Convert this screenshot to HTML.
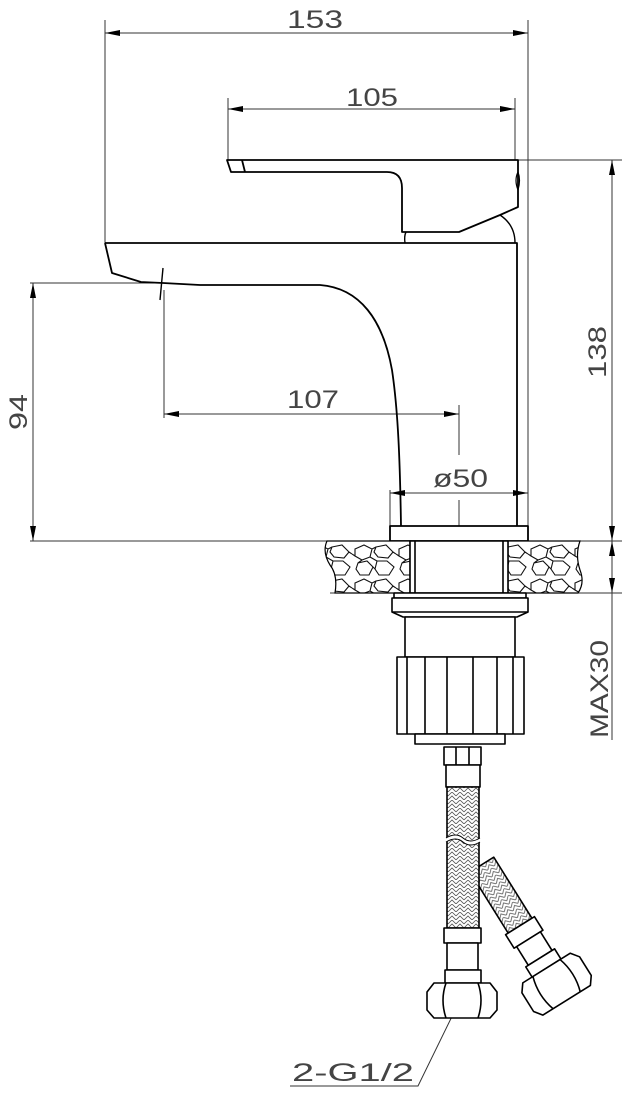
<!DOCTYPE html>
<html><head><meta charset="utf-8"><style>
html,body{margin:0;padding:0;background:#fff;}
svg{display:block;}
text{font-family:"Liberation Sans",sans-serif;font-weight:normal;fill:#444;}
</style></head><body>
<svg width="624" height="1104" viewBox="0 0 624 1104" xmlns="http://www.w3.org/2000/svg">
<defs>
<pattern id="stone" width="44" height="34" patternUnits="userSpaceOnUse">
<rect width="44" height="34" fill="#fff"/>
<path d="M3 5 L12 1 L20 5 L18 13 L10 16 L3 12 Z M24 3 L34 1 L41 8 L36 14 L26 13 L22 8 Z M6 19 L15 17 L21 23 L17 31 L8 31 L4 25 Z M25 17 L35 17 L42 23 L37 31 L27 31 L23 25 Z M18 13 L25 17 M20 5 L24 3 M41 8 L44 10 M0 10 L3 12 M21 23 L23 25 M10 16 L6 19" fill="none" stroke="#111" stroke-width="1.1"/>
</pattern>
<pattern id="braid" width="8" height="8" patternUnits="userSpaceOnUse">
<rect width="8" height="8" fill="#fff"/>
<path d="M0 4 L4 0 L8 4 M0 8 L4 4 L8 8" fill="none" stroke="#555" stroke-width="0.8"/>
</pattern>
<marker id="a" viewBox="0 0 10 4" refX="10" refY="2" markerWidth="18" markerHeight="6" orient="auto-start-reverse" markerUnits="userSpaceOnUse">
<path d="M0 0 L10 2 L0 4 Z" fill="#000"/>
</marker>
</defs>

<g stroke="#333" stroke-width="1" fill="none">
<line x1="105" y1="20" x2="105" y2="243"/>
<line x1="528" y1="20" x2="528" y2="540"/>
<line x1="105" y1="33" x2="528" y2="33" marker-start="url(#a)" marker-end="url(#a)"/>
<line x1="228" y1="98" x2="228" y2="160"/>
<line x1="515" y1="98" x2="515" y2="160"/>
<line x1="228" y1="109" x2="515" y2="109" marker-start="url(#a)" marker-end="url(#a)"/>
<line x1="518" y1="160" x2="622" y2="160"/>
<line x1="612" y1="160" x2="612" y2="541" marker-start="url(#a)" marker-end="url(#a)"/>
<line x1="30" y1="283" x2="163" y2="283"/>
<line x1="33" y1="283" x2="33" y2="541" marker-start="url(#a)" marker-end="url(#a)"/>
<line x1="164" y1="290" x2="164" y2="418"/>
<line x1="459" y1="405" x2="459" y2="455"/>
<line x1="164" y1="414" x2="459" y2="414" marker-start="url(#a)" marker-end="url(#a)"/>
<line x1="390" y1="490" x2="390" y2="526"/>
<line x1="390" y1="493" x2="528" y2="493" marker-start="url(#a)" marker-end="url(#a)"/>
<line x1="459" y1="500" x2="459" y2="526"/>
<line x1="30" y1="541" x2="622" y2="541"/>
<line x1="505" y1="593" x2="622" y2="593"/>
<line x1="330" y1="593" x2="410" y2="593"/>
<line x1="612" y1="541" x2="612" y2="593" marker-start="url(#a)" marker-end="url(#a)"/>
<line x1="612" y1="593" x2="612" y2="740"/>
<polyline points="460,1000 418,1086 290,1086"/>
</g>

<g stroke="#000" stroke-width="1.8" fill="none" stroke-linejoin="round">
<path d="M227 160 L231 172 L387 172 Q402 172 402 188 L402 232 L459 232 L500 215 L518 207 L518 160 Z"/>
<line x1="242" y1="160" x2="245" y2="172"/>
<path d="M518 172 Q514 180 518 190 Q521 180 518 172" stroke-width="1.2"/>
<path d="M405 243 Q404 236 406 232" stroke-width="1.4"/>
<path d="M500 215 Q515 225 515 243" stroke-width="1.4"/>
<path d="M105 243 L517 243 L517 526"/>
<path d="M105 243 L112 273 L141 282 L163 283 L200 285 L320 285 C360 288 383 320 392 370 C398 410 400 460 401 526"/>
<line x1="163" y1="268" x2="160" y2="300" stroke-width="1.4"/>
<rect x="390" y="526" width="138" height="15"/>
</g>

<path d="M327 541 L410 541 L410 593 L335 593 Q338 575 330 565 Q322 552 327 541 Z" fill="url(#stone)" stroke="#000" stroke-width="1.2"/>
<path d="M508 541 L580 541 Q575 555 580 570 Q585 583 578 593 L508 593 Z" fill="url(#stone)" stroke="#000" stroke-width="1.2"/>

<g stroke="#000" stroke-width="1.6" fill="#fff" stroke-linejoin="round">
<rect x="410" y="541" width="98" height="52"/>
<line x1="415" y1="541" x2="415" y2="593"/>
<line x1="503" y1="541" x2="503" y2="593"/>
<rect x="394" y="593" width="132" height="5"/>
<path d="M392 598 L528 598 L528 612 L517 617 L403 617 L392 612 Z"/>
<line x1="392" y1="612" x2="528" y2="612"/>
<rect x="405" y="617" width="110" height="40"/>
<rect x="397" y="657" width="127" height="77"/>
<path d="M407 657 V734 M425 657 V734 M447 657 V734 M473 657 V734 M497 657 V734 M513 657 V734"/>
<rect x="415" y="734" width="90" height="10"/>
<!-- branch hose (behind main) -->
<g transform="translate(470,872) rotate(-32)">
<rect x="0" y="0" width="28" height="72" fill="url(#braid)"/>
<rect x="-3" y="72" width="34" height="16"/>
<rect x="0" y="88" width="28" height="22"/>
<rect x="-3" y="110" width="34" height="12"/>
<path d="M-14 122 L42 122 L48 130 L48 152 L42 160 L-14 160 L-20 152 L-20 130 Z"/>
<path d="M-2 122 Q-8 141 -2 160 M30 122 Q36 141 30 160"/>
</g>
<rect x="444" y="747" width="37" height="18"/>
<path d="M456 747 V765 M469 747 V765"/>
<rect x="446" y="765" width="34" height="22"/>
<rect x="447" y="787" width="32" height="141" fill="url(#braid)"/>
<path d="M446 838 Q456 832 463 838 Q470 844 480 838 L480 842 Q470 848 463 842 Q456 836 446 842 Z" fill="#fff" stroke="none"/>
<path d="M446 838 Q456 832 463 838 Q470 844 480 838 M446 842 Q456 836 463 842 Q470 848 480 842" fill="none" stroke-width="1"/>
<rect x="444" y="928" width="37" height="15"/>
<rect x="447" y="943" width="31" height="27"/>
<rect x="445" y="970" width="36" height="13"/>
<path d="M434 983 L490 983 L497 992 L497 1010 L490 1018 L434 1018 L427 1010 L427 992 Z"/>
<path d="M446 983 Q440 1000 446 1018 M478 983 Q484 1000 478 1018"/>
</g>

<g font-size="25">
<text x="287" y="28" textLength="56" lengthAdjust="spacingAndGlyphs">153</text>
<text x="346" y="106" textLength="52" lengthAdjust="spacingAndGlyphs">105</text>
<text x="287" y="408" textLength="52" lengthAdjust="spacingAndGlyphs">107</text>
<text x="433" y="487" textLength="55" lengthAdjust="spacingAndGlyphs">ø50</text>
<text transform="translate(606,378) rotate(-90)" textLength="52" lengthAdjust="spacingAndGlyphs">138</text>
<text transform="translate(27,430) rotate(-90)" textLength="36" lengthAdjust="spacingAndGlyphs">94</text>
<text transform="translate(608,738) rotate(-90)" textLength="98" lengthAdjust="spacingAndGlyphs">MAX30</text>
<text x="292" y="1081" textLength="122" lengthAdjust="spacingAndGlyphs">2-G1/2</text>
</g>
</svg>
</body></html>
